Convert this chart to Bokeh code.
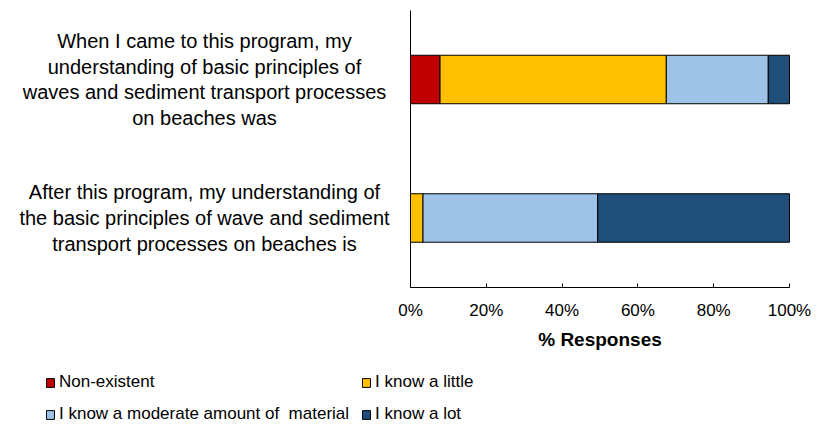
from bokeh.plotting import figure
from bokeh.models import (ColumnDataSource, Range1d, Legend, LegendItem,
                          FixedTicker, PrintfTickFormatter)
from bokeh.core.properties import value
from bokeh.embed import file_html
from bokeh.resources import INLINE

# ---------------- data ----------------
question_texts = [
    "After this program, my understanding of\nthe basic principles of wave and sediment\ntransport processes on beaches is",
    "When I came to this program, my\nunderstanding of basic principles of\nwaves and sediment transport processes\non beaches was",
]                                        # bottom to top
series_names = ["Non-existent", "I know a little",
                "I know a moderate amount of  material", "I know a lot"]
non_existent = [0.0, 7.8]
know_little = [3.3, 59.7]
know_moderate = [46.1, 26.9]
know_lot = [50.6, 5.6]
series_colors = ["#C00000", "#FFC000", "#9DC3E6", "#1F4E79"]
x_ticks = [0, 20, 40, 60, 80, 100]
x_title = "% Responses"

# ---------------- layout (pixels) ----------------
W, H = 811, 425
X0_PX, X100_PX = 410, 789          # where 0% and 100% fall
BAND_PX = 138.5                    # height of one category band
POST_PX = 217.5                    # centre of the lower bar (from top)
FONT = "Liberation Sans"

xs = (X100_PX - X0_PX) / 100.0     # px per % unit
x_range = Range1d(-X0_PX / xs, (W - X0_PX) / xs)
y_range = Range1d((POST_PX - H) / BAND_PX, POST_PX / BAND_PX)

p = figure(width=W, height=H, output_backend="svg", toolbar_location=None,
           x_range=x_range, y_range=y_range, min_border=0)
p.outline_line_color = None
p.grid.visible = False

ypos = list(range(len(question_texts)))
src = ColumnDataSource(dict(y=ypos, s0=non_existent, s1=know_little,
                            s2=know_moderate, s3=know_lot))
rends = p.hbar_stack(["s0", "s1", "s2", "s3"], y="y", height=0.35,
                     fill_color=series_colors, line_color="black",
                     line_width=1, source=src)

# x axis, placed at the bottom of the lower band
xa = p.xaxis[0]
xa.fixed_location = -0.5
xa.bounds = (x_ticks[0], x_ticks[-1])
xa.ticker = FixedTicker(ticks=x_ticks)
xa.formatter = PrintfTickFormatter(format="%d%%")
xa.axis_line_color = "black"
xa.major_tick_line_color = "black"
xa.major_tick_in = 4
xa.major_tick_out = 0
xa.minor_tick_line_color = None
xa.major_label_text_font = FONT
xa.major_label_text_font_size = "17px"
xa.major_label_text_color = "black"
xa.major_label_standoff = 14
xa.axis_label = x_title
xa.axis_label_text_font = FONT
xa.axis_label_text_font_size = "19px"
xa.axis_label_text_font_style = "bold"
xa.axis_label_text_color = "black"
xa.axis_label_standoff = 5

# y axis: line only, at 0 %
ya = p.yaxis[0]
ya.fixed_location = 0
ya.bounds = (-0.5, len(question_texts) - 0.5)
ya.ticker = FixedTicker(ticks=[])
ya.axis_line_color = "black"
ya.major_tick_line_color = None
ya.minor_tick_line_color = None

# category labels (centred, multi-line), left of the axis
label_x = (204 - X0_PX) / xs
p.text(x=[label_x] * len(ypos), y=ypos, text=question_texts,
       text_align="center", text_baseline="middle",
       text_font=value(FONT), text_font_size="20px",
       text_line_height=1.17, text_color="black")

# legend
items = [LegendItem(label=n, renderers=[r]) for n, r in zip(series_names, rends)]
legend = Legend(items=items, location=(45, 1), orientation="horizontal",
                ncols=2, nrows=2, padding=0, margin=0, spacing=12,
                label_height=20, glyph_width=10, glyph_height=11,
                label_standoff=4, label_text_font=FONT,
                label_text_font_size="17px", label_text_color="black",
                border_line_color=None, background_fill_alpha=0)
p.add_layout(legend, "center")

open("out.html", "w").write(file_html(p, INLINE))
